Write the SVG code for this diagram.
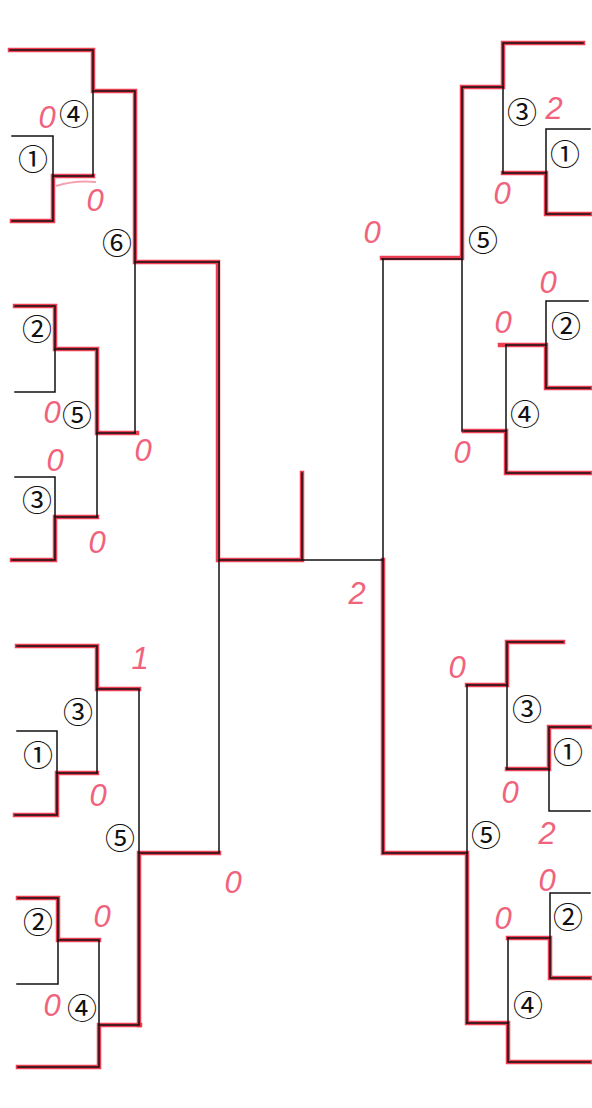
<svg xmlns="http://www.w3.org/2000/svg" width="592" height="1108" viewBox="0 0 592 1108">
<style>
.bk{fill:none;stroke:#111;stroke-width:1.5;stroke-linecap:square}
.rd{fill:none;stroke:#ea2a40;stroke-width:4.5;stroke-linecap:square;stroke-linejoin:miter;opacity:0.9}
.lbl{font-family:"Noto Sans CJK JP","DejaVu Sans",sans-serif;font-size:30px;fill:#111;text-anchor:middle;dominant-baseline:central}
.sc{font-family:"Liberation Sans","DejaVu Sans",sans-serif;font-style:italic;font-size:31px;fill:#f0637c;text-anchor:middle;dominant-baseline:central}
</style>
<rect width="592" height="1108" fill="#fff"/>
<g id="connectors">
<g id="red-paths">
<path class="rd" d="M10,50 H93 V91 H135 V262 H218 V560 H302 V473"/>
<path class="rd" d="M12,221 H53 V176 H93"/>
<path class="rd" d="M15,306 H55 V349 H97 V433 H137"/>
<path class="rd" d="M12,560 H55 V517 H97"/>
<path class="rd" d="M17,646 H97 V689 H139"/>
<path class="rd" d="M15,815 H57 V773 H97"/>
<path class="rd" d="M219,853 H139 V1025"/>
<path class="rd" d="M18,898 H58 V940 H99"/>
<path class="rd" d="M18,1067 H99 V1025 H140"/>
<path class="rd" d="M583,43 H503 V87 H462 V258 H382"/>
<path class="rd" d="M503,173 H546 V214 H590"/>
<path class="rd" d="M500,345 H546 V388 H590"/>
<path class="rd" d="M464,431 H506 V473 H590"/>
<path class="rd" d="M383,560 V853 H467 V1023 H508 V1062 H590"/>
<path class="rd" d="M563,642 H507 V685 H467"/>
<path class="rd" d="M507,769 H549 V727 H590"/>
<path class="rd" d="M508,938 H550 V978 H590"/>
<path d="M56,186 Q75,180 96,182" fill="none" stroke="#f4a0b0" stroke-width="2"/>
</g>
<g id="black-lines">
<path class="bk" d="M10,50 H93 V176"/>
<path class="bk" d="M12,136 H53 V221 H12"/>
<path class="bk" d="M53,176 H93"/>
<path class="bk" d="M93,91 H135 V433"/>
<path class="bk" d="M135,262 H219"/>
<path class="bk" d="M15,306 H55 V392 H15"/>
<path class="bk" d="M55,349 H97 V517"/>
<path class="bk" d="M15,477 H55 V560 H12"/>
<path class="bk" d="M55,517 H97"/>
<path class="bk" d="M97,433 H135"/>
<path class="bk" d="M219,262 V852"/>
<path class="bk" d="M219,560 H383"/>
<path class="bk" d="M302,473 V560"/>
<path class="bk" d="M17,646 H97 V773"/>
<path class="bk" d="M17,731 H57 V815 H15"/>
<path class="bk" d="M57,773 H97"/>
<path class="bk" d="M97,689 H139 V1024"/>
<path class="bk" d="M139,853 H219"/>
<path class="bk" d="M18,898 H58 V984 H17"/>
<path class="bk" d="M58,940 H99 V1067 H18"/>
<path class="bk" d="M99,1025 H139"/>
<path class="bk" d="M583,43 H503 V173"/>
<path class="bk" d="M590,129 H546 V214 H590"/>
<path class="bk" d="M503,173 H546"/>
<path class="bk" d="M503,87 H462 V431"/>
<path class="bk" d="M382,259 H462"/>
<path class="bk" d="M588,301 H546 V388 H590"/>
<path class="bk" d="M506,345 H546"/>
<path class="bk" d="M506,345 V473 H590"/>
<path class="bk" d="M464,431 H506"/>
<path class="bk" d="M383,259 V853"/>
<path class="bk" d="M563,642 H507 V769"/>
<path class="bk" d="M590,727 H549 V811 H590"/>
<path class="bk" d="M507,769 H549"/>
<path class="bk" d="M467,685 H507"/>
<path class="bk" d="M467,685 V1023"/>
<path class="bk" d="M383,853 H467"/>
<path class="bk" d="M590,893 H550 V978 H590"/>
<path class="bk" d="M508,938 H550"/>
<path class="bk" d="M508,938 V1062 H590"/>
<path class="bk" d="M467,1023 H508"/>
</g>
</g>
<g id="left-top">
<g id="lt-4"><text class="lbl" x="74" y="112">④</text></g>
<g id="lt-1"><text class="lbl" x="33" y="157">①</text></g>
<g id="lt-6"><text class="lbl" x="117" y="241">⑥</text></g>
<g id="lt-2"><text class="lbl" x="37" y="327">②</text></g>
<g id="lt-5"><text class="lbl" x="77" y="413">⑤</text></g>
<g id="lt-3"><text class="lbl" x="37" y="498">③</text></g>
</g>
<g id="left-bottom">
<g id="lb-3"><text class="lbl" x="78" y="710">③</text></g>
<g id="lb-1"><text class="lbl" x="38" y="753">①</text></g>
<g id="lb-5"><text class="lbl" x="120" y="836">⑤</text></g>
<g id="lb-2"><text class="lbl" x="38" y="920">②</text></g>
<g id="lb-4"><text class="lbl" x="82" y="1006">④</text></g>
</g>
<g id="right-top">
<g id="rt-3"><text class="lbl" x="522" y="110">③</text></g>
<g id="rt-1"><text class="lbl" x="565" y="152">①</text></g>
<g id="rt-5"><text class="lbl" x="483" y="238">⑤</text></g>
<g id="rt-2"><text class="lbl" x="566" y="324">②</text></g>
<g id="rt-4"><text class="lbl" x="525" y="412">④</text></g>
</g>
<g id="right-bottom">
<g id="rb-3"><text class="lbl" x="527" y="707">③</text></g>
<g id="rb-1"><text class="lbl" x="568" y="750">①</text></g>
<g id="rb-5"><text class="lbl" x="486" y="833">⑤</text></g>
<g id="rb-2"><text class="lbl" x="568" y="915">②</text></g>
<g id="rb-4"><text class="lbl" x="528" y="1003">④</text></g>
</g>
<g id="scores">
<text class="sc" x="47" y="117">0</text>
<text class="sc" x="95" y="200">0</text>
<text class="sc" x="52" y="412">0</text>
<text class="sc" x="55" y="460">0</text>
<text class="sc" x="97" y="542">0</text>
<text class="sc" x="143" y="450">0</text>
<text class="sc" x="140" y="658" font-size="22">1</text>
<text class="sc" x="98" y="795">0</text>
<text class="sc" x="233" y="882">0</text>
<text class="sc" x="102" y="916">0</text>
<text class="sc" x="52" y="1005">0</text>
<text class="sc" x="357" y="593">2</text>
<text class="sc" x="554" y="108">2</text>
<text class="sc" x="502" y="193">0</text>
<text class="sc" x="372" y="232">0</text>
<text class="sc" x="548" y="282">0</text>
<text class="sc" x="503" y="322">0</text>
<text class="sc" x="462" y="452">0</text>
<text class="sc" x="457" y="667">0</text>
<text class="sc" x="510" y="792">0</text>
<text class="sc" x="547" y="833">2</text>
<text class="sc" x="547" y="880">0</text>
<text class="sc" x="503" y="918">0</text>
</g>
</svg>
